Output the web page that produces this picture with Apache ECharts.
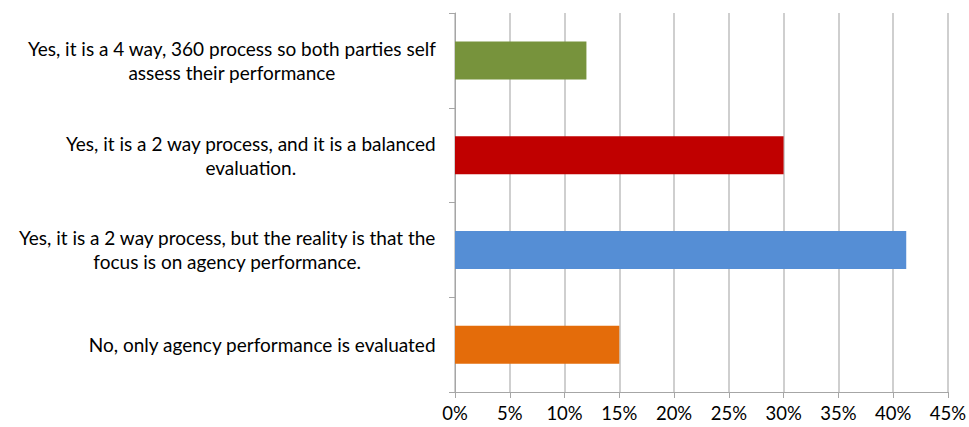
<!DOCTYPE html>
<html>
<head>
<meta charset="utf-8">
<script src="https://cdn.jsdelivr.net/npm/echarts@6/dist/echarts.min.js"></script>
<style>
  html, body { margin: 0; padding: 0; background: #ffffff; }
  #chart { width: 969px; height: 427px; }
</style>
</head>
<body>
<div id="chart"></div>
<script>
// Survey answers, listed bottom to top as they appear on the category axis
const categories = [
  'No, only agency performance is evaluated',
  'Yes, it is a 2 way process, but the reality is that the\nfocus is on agency performance.',
  'Yes, it is a 2 way process, and it is a balanced\nevaluation.',
  'Yes, it is a 4 way, 360 process so both parties self\nassess their performance'
];
// Share of respondents (%)
const shares = [15, 41.2, 30, 12];
const barColors = ['#E46C0A', '#558ED5', '#C00000', '#77933C'];
const xMax = 45;
const xStep = 5;

const fontFamily = 'Lato, "Open Sans", sans-serif';

const chart = echarts.init(document.getElementById('chart'), null, { renderer: 'svg' });

chart.setOption({
  animation: false,
  backgroundColor: '#ffffff',
  grid: { left: 455, right: 16, top: 13, bottom: 35, containLabel: false },
  xAxis: {
    type: 'value',
    min: 0,
    max: xMax,
    interval: xStep,
    axisLine: { show: true, lineStyle: { color: '#A6A6A6', width: 1 } },
    axisTick: { show: true, length: 6, lineStyle: { color: '#A6A6A6' } },
    splitLine: { show: true, lineStyle: { color: '#BFBFBF', width: 1.5 } },
    axisLabel: {
      formatter: v => v + '%',
      color: '#000000',
      fontFamily: fontFamily,
      fontSize: 18.5,
      margin: 11
    }
  },
  yAxis: {
    type: 'category',
    data: categories,
    axisLine: { show: true, lineStyle: { color: '#A6A6A6', width: 1 } },
    axisTick: { show: true, length: 6, lineStyle: { color: '#A6A6A6' } },
    splitLine: { show: false },
    axisLabel: {
      align: 'right',
      margin: 19,
      lineHeight: 24,
      color: '#000000',
      fontFamily: fontFamily,
      fontSize: 19,
      formatter: v => v.split('\n').map(line => '{c|' + line + '}').join('\n'),
      rich: {
        c: {
          align: 'center',
          color: '#000000',
          fontFamily: fontFamily,
          fontSize: 19,
          lineHeight: 24
        }
      }
    }
  },
  series: [{
    type: 'bar',
    barWidth: 38,
    data: shares.map((v, i) => ({ value: v, itemStyle: { color: barColors[i] } })),
    label: { show: false }
  }]
});
</script>
</body>
</html>
